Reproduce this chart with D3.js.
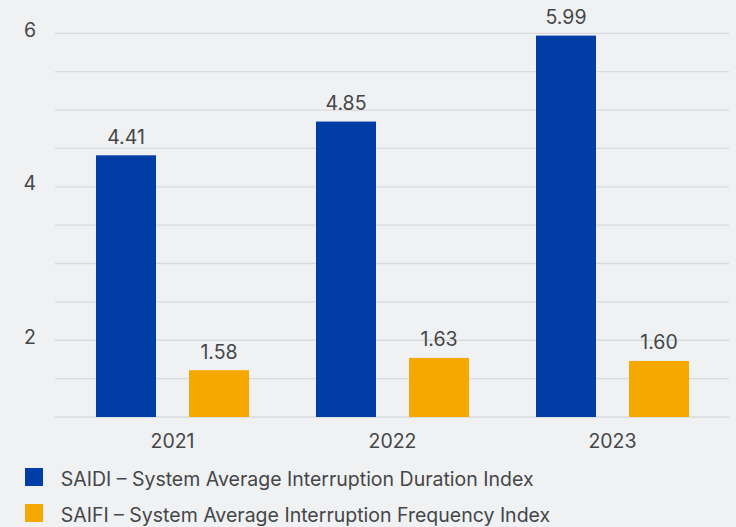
<!DOCTYPE html>
<html>
<head>
<meta charset="utf-8">
<script src="https://cdn.jsdelivr.net/npm/d3@7"></script>
<style>
  body { margin: 0; background: #f0f1f3; }
  svg { display: block; font-family: Inter, "Noto Sans", sans-serif; }
</style>
</head>
<body>
<div id="chart"></div>
<script>
//
// DATA
//
const years = ['2021', '2022', '2023']
const series = ['SAIDI', 'SAIFI']
const seriesNames = [
    'SAIDI – System Average Interruption Duration Index',
    'SAIFI – System Average Interruption Frequency Index',
]
// bar heights as drawn in the picture
const saidiValues = [4.41, 4.85, 5.97]
const saifiValues = [1.61, 1.77, 1.73]
// printed labels
const saidiLabels = ['4.41', '4.85', '5.99']
const saifiLabels = ['1.58', '1.63', '1.60']
const yTicks = [2, 4, 6]
const gridValues = d3.range(1, 6.01, 0.5)

//
// GLOBALS
//
const width = 736
const height = 527
const colors = ['#003da6', '#f5a800']
const textColor = '#444648'
const fontSize = '19.5px'

const svg = d3.select('#chart').append('svg')
    .attr('width', width)
    .attr('height', height)

// scales
const y = d3.scaleLinear().domain([1, 6]).range([417, 33.3])
const x = d3.scaleBand().domain(years).range([62.5, 722.5])
const xSub = d3.scaleBand().domain(series).range([0, x.bandwidth()])
    .paddingInner(0.355).paddingOuter(0.36)
const color = d3.scaleOrdinal().domain(series).range(colors)

// grid lines
svg.append('g')
    .selectAll('line')
    .data(gridValues)
    .join('line')
    .attr('x1', 55)
    .attr('x2', 729)
    .attr('y1', d => y(d))
    .attr('y2', d => y(d))
    .attr('stroke', '#d9dadd')
    .attr('stroke-width', 1.3)

// y tick labels
svg.append('g')
    .selectAll('text')
    .data(yTicks)
    .join('text')
    .attr('x', 36)
    .attr('y', d => y(d) + 3.7)
    .attr('text-anchor', 'end')
    .attr('fill', textColor)
    .style('font-size', fontSize)
    .text(d => d)

// bars and labels
const rows = years.map((yr, i) => ({
    year: yr,
    items: [
        { key: 'SAIDI', value: saidiValues[i], label: saidiLabels[i] },
        { key: 'SAIFI', value: saifiValues[i], label: saifiLabels[i] },
    ],
}))

const groups = svg.append('g')
    .selectAll('g')
    .data(rows)
    .join('g')
    .attr('transform', d => `translate(${x(d.year)},0)`)

groups.selectAll('rect')
    .data(d => d.items)
    .join('rect')
    .attr('x', d => xSub(d.key))
    .attr('width', xSub.bandwidth())
    .attr('y', d => y(d.value))
    .attr('height', d => y(1) - y(d.value))
    .attr('fill', d => color(d.key))

groups.selectAll('text.value')
    .data(d => d.items)
    .join('text')
    .attr('class', 'value')
    .attr('x', d => xSub(d.key) + xSub.bandwidth() / 2)
    .attr('y', d => y(d.value) - 11.5)
    .attr('text-anchor', 'middle')
    .attr('fill', textColor)
    .style('font-size', fontSize)
    .text(d => d.label)

// year labels
svg.append('g')
    .selectAll('text')
    .data(years)
    .join('text')
    .attr('x', d => x(d) + x.bandwidth() / 2)
    .attr('y', 448)
    .attr('text-anchor', 'middle')
    .attr('fill', textColor)
    .style('font-size', fontSize)
    .text(d => d)

// legend
const legend = svg.append('g')
    .selectAll('g')
    .data(series)
    .join('g')
    .attr('transform', (d, i) => `translate(25,${468 + i * 36})`)

legend.append('rect')
    .attr('width', 18)
    .attr('height', 18)
    .attr('fill', d => color(d))

legend.append('text')
    .attr('x', 35.7)
    .attr('y', 18)
    .attr('fill', textColor)
    .style('font-size', fontSize)
    .text((d, i) => seriesNames[i])
</script>
</body>
</html>
